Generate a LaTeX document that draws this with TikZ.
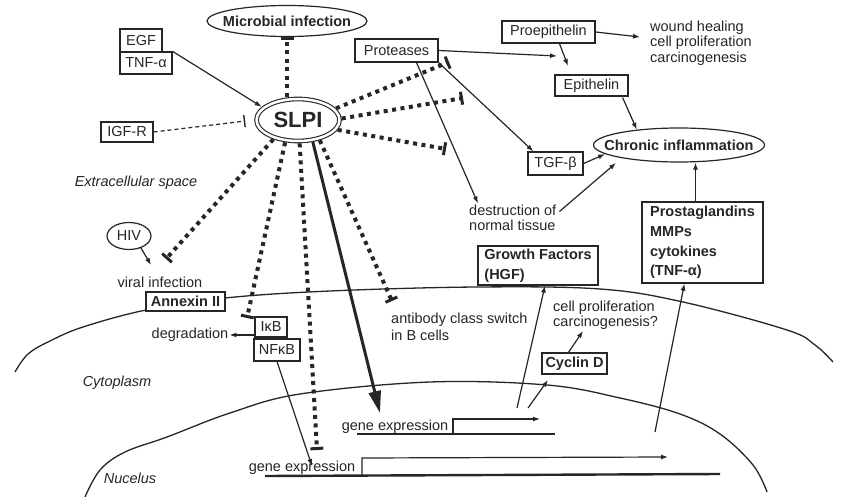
\documentclass[tikz,border=0pt]{standalone}
\usepackage{fontspec}
\setmainfont{Liberation Sans}
\usetikzlibrary{arrows.meta,shapes.geometric,calc}
\definecolor{ink}{HTML}{262626}
\begin{document}
\begin{tikzpicture}[x=1pt,y=-1pt,
 every node/.style={text=ink,font=\fontsize{14.5}{16}\selectfont,inner sep=1pt},
 bx/.style={draw=ink,line width=1.2pt,fill=white,inner sep=0pt,rectangle},
 bf/.style={font=\fontsize{14.5}{16}\selectfont\bfseries},
 ell/.style={draw=ink,line width=1.2pt,ellipse,inner sep=0pt,fill=white},
 it/.style={font=\fontsize{14.5}{16}\selectfont\itshape},
 arr/.style={draw=ink,line width=1.2pt,-{Latex[length=7pt,width=5pt]}},
 dots/.style={draw=ink,line width=4pt,dash pattern=on 4pt off 4.5pt,-{Bar[width=13pt,line width=3pt]}},
 dsh/.style={draw=ink,line width=1.2pt,dash pattern=on 4pt off 3pt,-{Bar[width=12pt,line width=1.4pt]}},
 mem/.style={draw=ink,line width=1.3pt},
 dna/.style={draw=ink,line width=2.4pt},
]
\fill[white] (0,0) rectangle (843,497);
\useasboundingbox (0,0) rectangle (843,497);

% membranes
\draw[mem] plot[smooth,tension=0.6] coordinates {(15,372) (28,354) (50,341) (83,327) (146,310) (225,298) (330,291) (477,287) (600,289) (683,302) (787,330) (815,345) (833,362)};
\draw[mem] plot[smooth,tension=0.6] coordinates {(85,497) (100,470) (125,452) (167,437) (230,413) (300,394) (430,382) (547,385) (620,398) (680,414) (720,434) (753,465) (767,492)};

% genes
\draw[dna] (357,434) -- (555,434);
\draw[arr] (453,434) -- (453,419) -- (540,419);
\draw[dna] (265,476) -- (720,474);
\draw[arr] (362,476) -- (362,458) -- (668,457);

% nodes
\node[ell,bf,minimum width=160pt,minimum height=31pt] (micro) at (287,21) {\makebox[0pt]{Microbial infection}};
\node[draw=ink,ellipse,double,double distance=2.5pt,line width=1.1pt,minimum width=83pt,minimum height=42pt,inner sep=0pt,outer sep=2.4pt,font=\fontsize{22}{24}\selectfont\bfseries] (slpi) at (298,120) {\makebox[0pt]{SLPI}};
\node[ell,bf,minimum width=171pt,minimum height=34pt] (chron) at (679,145) {\makebox[0pt]{Chronic inflammation}};
\node[ell,minimum width=44pt,minimum height=27pt] (hiv) at (129,236) {\makebox[0pt]{HIV}};

\node[bx,minimum width=42pt,minimum height=23pt] (egf) at (141,40.5) {EGF};
\node[bx,minimum width=52pt,minimum height=22pt] (tnf) at (146,63) {TNF-α};
\node[bx,minimum width=52pt,minimum height=20pt] (igf) at (127,132) {IGF-R};
\node[bx,minimum width=83pt,minimum height=23pt] (prot) at (396.5,50.5) {Proteases};
\node[bx,minimum width=93pt,minimum height=22pt] (proep) at (548.5,32) {Proepithelin};
\node[bx,minimum width=73pt,minimum height=21pt] (epi) at (591.5,85.5) {Epithelin};
\node[bx,minimum width=55pt,minimum height=23pt] (tgf) at (555.5,163.5) {TGF-β};
\node[bx,bf,minimum width=79pt,minimum height=19pt] (annex) at (185.5,301.5) {Annexin II};
\node[bx,minimum width=32pt,minimum height=20pt] (ikb) at (271,327) {IκB};
\node[bx,minimum width=46pt,minimum height=22pt] (nfkb) at (277,350) {NFκB};
\node[bx,align=left,minimum width=120pt,minimum height=39pt,font=\fontsize{14.5}{20}\selectfont\bfseries] (gf) at (538,265.5) {Growth Factors\\(HGF)};
\node[bx,align=left,minimum width=121pt,minimum height=81pt,font=\fontsize{14.5}{19.7}\selectfont\bfseries] (pros) at (702.5,242.5) {Prostaglandins\\MMPs\\cytokines\\(TNF-α)};
\node[bx,bf,minimum width=65pt,minimum height=21pt] (cyc) at (574.5,363.5) {Cyclin D};

\node[it] (extra) at (136,183) {Extracellular space};
\node (viral) at (160,282) {viral infection};
\node (degr) at (190,335) {degradation};
\node[it] (cyto) at (117,383) {Cytoplasm};
\node[it] (nuc) at (130,478) {Nucelus};
\node[anchor=west,align=left,font=\fontsize{14.5}{15.5}\selectfont] (wound) at (649,43) {wound healing\\cell proliferation\\carcinogenesis};
\node[anchor=west,align=left,font=\fontsize{14.5}{15}\selectfont] (destr) at (468,217.5) {destruction of\\normal tissue};
\node[anchor=west,align=left,font=\fontsize{14.5}{17}\selectfont] (anti) at (390,326.5) {antibody class switch\\in B cells};
\node[anchor=west,align=left,font=\fontsize{14.5}{15}\selectfont] (cellp) at (552,315.5) {cell proliferation\\carcinogenesis?};
\node (gene1) at (395,427) {gene expression};
\node (gene2) at (302,468) {gene expression};

% free ends
\coordinate (vi) at (166,259);
\coordinate (hvA) at (151,265);
\coordinate (ikbT) at (247,318);
\coordinate (g2T) at (317,450);
\coordinate (g1A) at (380,413);
\coordinate (abT) at (392,301);
\coordinate (prT) at (449,62);
\coordinate (tgT) at (463,98);
\coordinate (deT) at (446,149);
\coordinate (conv) at (557,56);
\coordinate (c1) at (616,163);
\coordinate (e1) at (568,66);
\coordinate (w1) at (640,37);
\coordinate (s1) at (517,408);
\coordinate (s2) at (528,408);
\coordinate (s3) at (655,432);
\coordinate (cyA) at (548,380);
\coordinate (nfA) at (312,466);

% SLPI connectors
\draw[dots] (micro.south |- slpi.north) -- (micro.south);
\draw[arr] (tnf.north east) -- (slpi.160);
\draw[dsh,shorten >=9pt] (igf.east) -- (slpi.west);
\draw[dots] (slpi.218) -- (vi);
\draw[dots] (slpi.240) -- (ikbT);
\draw[dots] (slpi.274) -- (g2T);
\draw[draw=ink,line width=3pt,-{Triangle[length=22pt,width=12pt]}] (slpi.304) -- (g1A);
\draw[dots] (slpi.317) -- (abT);
\draw[dots] (slpi.17) -- (prT);
\draw[dots] (slpi.2) -- (tgT);
\draw[dots] (slpi.346) -- (deT);

% other connectors
\draw[arr] (hiv.315) -- (hvA);
\draw[arr] (ikb.west |- degr.east) -- (degr.east);
\draw[arr] (nfkb.south) -- (nfA);
\draw[arr] (prot.east) -- (conv);
\draw[arr] (prot.south east) -- ($(tgf.north west)+(6,0)$);
\draw[arr] ($(prot.south)+(20,0)$) -- ($(destr.north west)+(10,0)$);
\draw[arr] ($(destr.north east)+(2,8)$) -- (c1);
\draw[arr] (tgf.east) -- (chron.187);
\draw[arr] ($(epi.south east)+(-6,1)$) -- (chron.160);
\draw[arr] ($(proep.south)+(11,0)$) -- (e1);
\draw[arr] (proep.east) -- (w1);
\draw[arr] ($(pros.north)+(-7,0)$) coordinate (pr1) -- (pr1 |- chron.south);
\draw[arr] (s1) -- ($(gf.south)+(7,0)$);
\draw[arr] (s2) -- (cyA);
\draw[arr] ($(cyc.north)+(-6,0)$) -- ($(cellp.south west)+(31,0)$);
\draw[arr] (s3) -- ($(pros.south west)+(43,0)$);
\end{tikzpicture}
\end{document}
